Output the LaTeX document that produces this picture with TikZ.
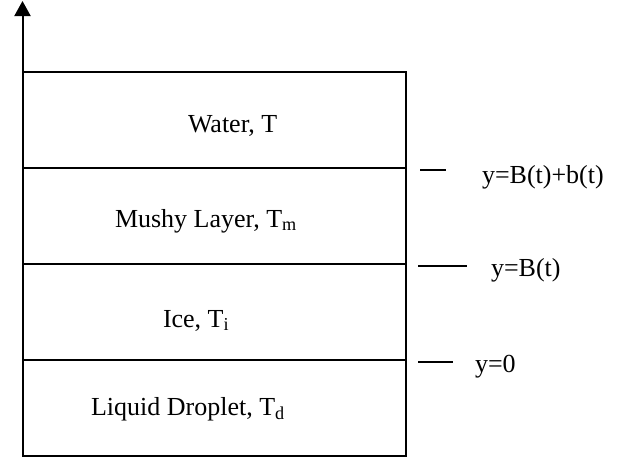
\documentclass[tikz,border=0pt]{standalone}
\usepackage{fontspec}
\setmainfont{Liberation Serif}
\usetikzlibrary{arrows.meta}
\begin{document}
\begin{tikzpicture}[x=1pt,y=-1pt,line width=2pt,
  lbl/.style={anchor=base west,inner sep=0pt,font=\fontsize{26}{30}\selectfont},
  tick/.style={line width=1.8pt},
  axis/.style={line width=2pt,-{Triangle[length=15pt,width=16pt]}}]
\useasboundingbox (0,0) rectangle (620,461);
% box corners and interfaces
\coordinate (tl) at (22.5,72);
\coordinate (tr) at (406,72);
\coordinate (bl) at (22.5,456);
\coordinate (br) at (406,456);
\coordinate (l1) at (22.5,168); \coordinate (r1) at (406,168);
\coordinate (l2) at (22.5,264); \coordinate (r2) at (406,264);
\coordinate (l3) at (22.5,360); \coordinate (r3) at (406,360);
\coordinate (axtop) at (22.5,1);
\draw (tl) -- (tr) -- (br) -- (bl) -- cycle;
\draw (l1) -- (r1);
\draw (l2) -- (r2);
\draw (l3) -- (r3);
\draw[axis] (tl) -- (axtop);
% layer labels
\node[lbl] (water) at (187,132) {Water, T};
\node[lbl] (mushy) at (114,227) {Mushy Layer, T\textsubscript{m}};
\node[lbl] (ice) at (162,327) {Ice, T\textsubscript{i}};
\node[lbl] (drop) at (90,415) {Liquid Droplet, T\textsubscript{d}};
% interface ticks and labels
\coordinate (t1a) at (420,170); \coordinate (t1b) at (446,170);
\coordinate (t2a) at (418,266); \coordinate (t2b) at (467,266);
\coordinate (t3a) at (418,362); \coordinate (t3b) at (453,362);
\draw[tick] (t1a) -- (t1b);
\draw[tick] (t2a) -- (t2b);
\draw[tick] (t3a) -- (t3b);
\node[lbl] (y1) at (481,183) {y=B(t)+b(t)};
\node[lbl] (y2) at (490,276) {y=B(t)};
\node[lbl] (y3) at (474,372) {y=0};
\end{tikzpicture}
\end{document}
